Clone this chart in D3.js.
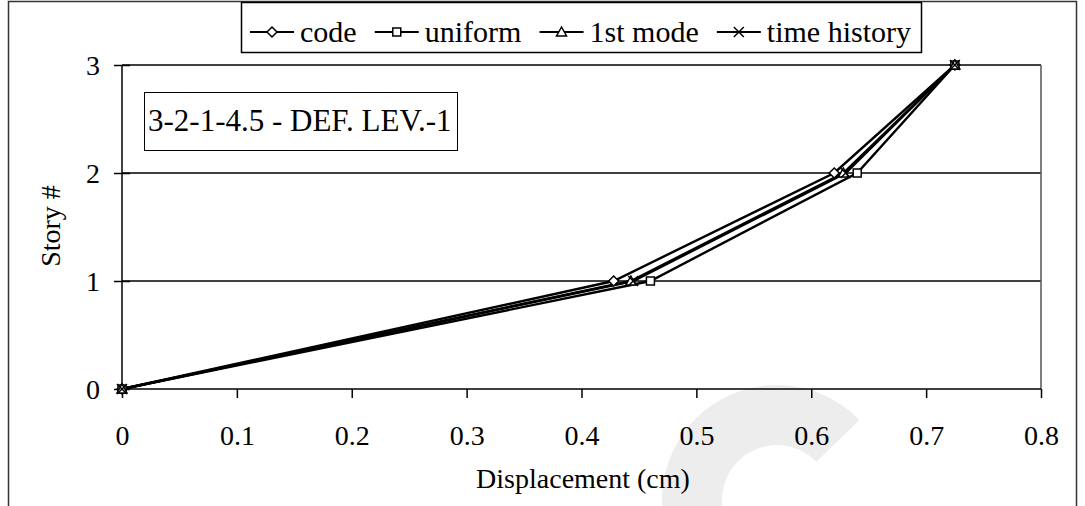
<!DOCTYPE html>
<html>
<head>
<meta charset="utf-8">
<script src="https://cdn.jsdelivr.net/npm/d3@7"></script>
<style>
  body { margin: 0; background: #fff; }
  svg text { font-family: "Liberation Serif", "Times New Roman", serif; fill: #000; }
</style>
</head>
<body>
<svg id="chart" width="1085" height="506"></svg>
<script>
// story levels and displacement (cm) per load pattern
var stories = [0, 1, 2, 3];
var code = [0, 0.428, 0.62, 0.725];
var uniform = [0, 0.46, 0.64, 0.725];
var firstMode = [0, 0.443, 0.628, 0.725];
var timeHistory = [0, 0.445, 0.63, 0.725];
var seriesNames = ["code", "uniform", "1st mode", "time history"];
var seriesSymbols = ["diamond", "square", "triangle", "cross"];
var xTicks = [0, 0.1, 0.2, 0.3, 0.4, 0.5, 0.6, 0.7, 0.8];
var yTicks = [0, 1, 2, 3];
var boxLabel = "3-2-1-4.5 - DEF. LEV.-1";

var allSeries = [code, uniform, firstMode, timeHistory];
var svg = d3.select("#chart");
var fs = 28;

var x = d3.scaleLinear().domain([0, 0.8]).range([122, 1041]);
var y = d3.scaleLinear().domain([0, 3]).range([389, 65]);

// watermark arc in the bottom right
svg.append("path")
    .attr("transform", "translate(777,500)")
    .attr("d", d3.arc()({innerRadius: 55, outerRadius: 115, startAngle: -2.0, endAngle: 0.8}))
    .attr("fill", "#ededed");

// outer frame
svg.append("rect")
    .attr("x", 8.5).attr("y", 1.5)
    .attr("width", 1068).attr("height", 520)
    .attr("fill", "none").attr("stroke", "#333").attr("stroke-width", 1.5);

// grid lines
svg.append("g").selectAll("line")
    .data(yTicks.slice(1))
    .join("line")
    .attr("x1", x(0)).attr("x2", x(0.8))
    .attr("y1", function (d) { return y(d); })
    .attr("y2", function (d) { return y(d); })
    .attr("stroke", "#000").attr("stroke-width", 1.5);

// plot area right edge
svg.append("line")
    .attr("x1", x(0.8)).attr("x2", x(0.8))
    .attr("y1", y(3)).attr("y2", y(0))
    .attr("stroke", "#555").attr("stroke-width", 1.5);

// axes
var xAxis = svg.append("g")
    .attr("transform", "translate(0," + y(0) + ")")
    .call(d3.axisBottom(x).tickValues(xTicks).tickSize(9)
        .tickFormat(function (d) { return d === 0 ? "0" : d3.format(".1f")(d); }));
var yAxis = svg.append("g")
    .attr("transform", "translate(" + x(0) + ",0)")
    .call(d3.axisLeft(y).tickValues(yTicks).tickSize(8).tickFormat(d3.format("d")));
[xAxis, yAxis].forEach(function (g) {
    g.select(".domain").remove();
    g.selectAll("line").attr("stroke", "#000").attr("stroke-width", 1.5);
    g.selectAll("text").attr("font-size", fs).attr("fill", "#000");
});
xAxis.selectAll("text").attr("dy", null).attr("y", 56);
yAxis.selectAll("line").attr("x2", -8).attr("x1", 8);
yAxis.selectAll("text").attr("dy", "0.35em").attr("x", -22);
svg.append("line")
    .attr("x1", x(0)).attr("x2", x(0.8)).attr("y1", y(0)).attr("y2", y(0))
    .attr("stroke", "#000").attr("stroke-width", 1.5);
svg.append("line")
    .attr("x1", x(0)).attr("x2", x(0)).attr("y1", y(0)).attr("y2", y(3))
    .attr("stroke", "#000").attr("stroke-width", 1.5);

// axis titles
svg.append("text")
    .attr("x", 583).attr("y", 488)
    .attr("text-anchor", "middle").attr("font-size", fs)
    .text("Displacement (cm)");
svg.append("text")
    .attr("transform", "translate(60,226) rotate(-90)")
    .attr("text-anchor", "middle").attr("font-size", fs)
    .text("Story #");

// markers
function marker(g, kind) {
    if (kind === "diamond") {
        g.append("path").attr("d", "M0,-5L5,0L0,5L-5,0Z");
    } else if (kind === "square") {
        g.append("rect").attr("x", -4).attr("y", -4).attr("width", 8).attr("height", 8);
    } else if (kind === "triangle") {
        g.append("path").attr("d", "M0,-5L5,4L-5,4Z");
    } else {
        g.append("path").attr("d", "M-5,-5L5,5M-5,5L5,-5");
    }
    g.selectAll("*").attr("fill", "#fff").attr("stroke", "#000").attr("stroke-width", 1.5);
}

var line = d3.line()
    .x(function (d) { return x(d[0]); })
    .y(function (d) { return y(d[1]); });

allSeries.forEach(function (vals, i) {
    var pts = vals.map(function (v, k) { return [v, stories[k]]; });
    svg.append("path")
        .datum(pts)
        .attr("d", line)
        .attr("fill", "none").attr("stroke", "#000").attr("stroke-width", 2.4);
});
allSeries.forEach(function (vals, i) {
    vals.forEach(function (v, k) {
        var g = svg.append("g").attr("transform", "translate(" + x(v) + "," + y(stories[k]) + ")");
        marker(g, seriesSymbols[i]);
    });
});

// annotation box
svg.append("rect")
    .attr("x", 144.5).attr("y", 92.5).attr("width", 313).attr("height", 58)
    .attr("fill", "#fff").attr("stroke", "#000").attr("stroke-width", 1);
svg.append("text")
    .attr("x", 148).attr("y", 131).attr("font-size", 31)
    .text(boxLabel);

// legend: keys spread across the box
var lg = svg.append("g");
lg.append("rect")
    .attr("x", 241.5).attr("y", 2.5).attr("width", 680).attr("height", 50)
    .attr("fill", "#fff").attr("stroke", "#000").attr("stroke-width", 1.5);
var keyLen = 44, keyGap = 6;
var labels = seriesNames.map(function (name) {
    return lg.append("text").attr("y", 42).attr("font-size", 30).text(name);
});
var textSum = d3.sum(labels, function (t) { return t.node().getComputedTextLength(); });
var itemGap = (911 - 250 - seriesNames.length * (keyLen + keyGap) - textSum) / (seriesNames.length - 1);
var cx = 250;
seriesNames.forEach(function (name, i) {
    lg.append("line")
        .attr("x1", cx).attr("x2", cx + keyLen).attr("y1", 32).attr("y2", 32)
        .attr("stroke", "#000").attr("stroke-width", 2);
    marker(lg.append("g").attr("transform", "translate(" + (cx + keyLen / 2) + ",32)"), seriesSymbols[i]);
    labels[i].attr("x", cx + keyLen + keyGap);
    cx += keyLen + keyGap + labels[i].node().getComputedTextLength() + itemGap;
});
</script>
</body>
</html>
